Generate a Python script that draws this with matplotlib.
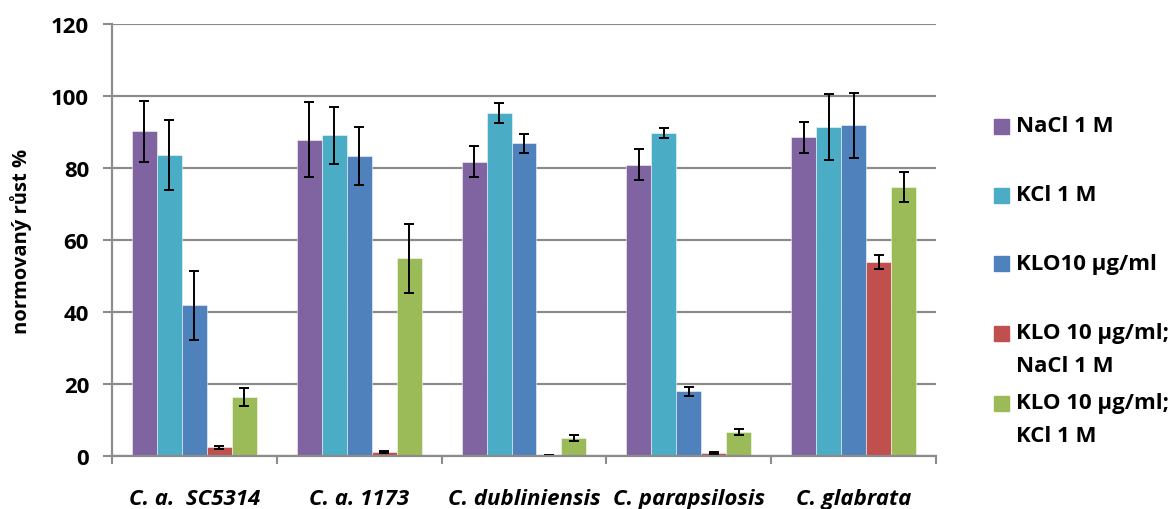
import matplotlib
matplotlib.use('Agg')
import matplotlib.pyplot as plt
import numpy as np
from matplotlib.patches import Rectangle

plt.rcParams['font.family'] = ['Open Sans', 'DejaVu Sans']

# data
categories = ['C. a.  SC5314', 'C. a. 1173', 'C. dubliniensis', 'C. parapsilosis', 'C. glabrata']
series_names = ['NaCl 1 M', 'KCl 1 M', 'KLO10 µg/ml', 'KLO 10 µg/ml;\nNaCl 1 M', 'KLO 10 µg/ml;\nKCl 1 M']
nacl = [90.2, 87.9, 81.8, 80.9, 88.6]
nacl_err = [8.5, 10.4, 4.3, 4.3, 4.3]
kcl = [83.6, 89.1, 95.3, 89.8, 91.4]
kcl_err = [9.8, 8.0, 2.8, 1.3, 9.1]
klo = [41.8, 83.4, 86.9, 17.9, 91.9]
klo_err = [9.7, 8.0, 2.7, 1.2, 9.1]
klo_nacl = [2.4, 1.0, 0.2, 0.7, 53.9]
klo_nacl_err = [0.4, 0.3, 0.1, 0.2, 1.9]
klo_kcl = [16.3, 54.9, 4.9, 6.6, 74.8]
klo_kcl_err = [2.5, 9.6, 0.9, 0.8, 4.1]

values = [nacl, kcl, klo, klo_nacl, klo_kcl]
errors = [nacl_err, kcl_err, klo_err, klo_nacl_err, klo_kcl_err]
colors = ['#8064A2', '#4BACC6', '#4F81BD', '#C0504D', '#9BBB59']

fig = plt.figure(figsize=(11.74, 5.10), dpi=100)
ax = fig.add_axes([112 / 1174, 1 - 456.7 / 510, (936 - 112) / 1174, (456.7 - 25.3) / 510])

x = np.arange(len(categories))
w = 0.1515
grid_c = '#8c8c8c'

ax.set_axisbelow(True)
ax.yaxis.grid(True, color=grid_c, lw=1.6)

for i, (vals, errs, c) in enumerate(zip(values, errors, colors)):
    ax.bar(x + (i - 2) * w, vals, w, color=c, edgecolor=(1, 1, 1, 0.5), lw=0.7,
           yerr=errs, capsize=3.8, error_kw=dict(ecolor='black', elinewidth=1.4, capthick=1.4))

ax.set_xlim(-0.5, len(categories) - 0.5)
ax.set_ylim(0, 120)
ax.set_yticks(range(0, 121, 20))
ax.tick_params(axis='y', length=6.5, width=1.5, color=grid_c, pad=10, labelsize=16)
for t in ax.get_yticklabels():
    t.set_fontweight('bold')

ax.set_xticks(x)
ax.set_xticklabels(categories, fontsize=16, fontweight='bold', fontstyle='italic')
ax.tick_params(axis='x', length=0, pad=23)
ax.set_xticks(np.arange(-0.5, len(categories), 1), minor=True)
ax.tick_params(axis='x', which='minor', length=5.5, width=1.5, color=grid_c)

for s in ['top', 'right']:
    ax.spines[s].set_visible(False)
for s in ['left', 'bottom']:
    ax.spines[s].set_color(grid_c)
    ax.spines[s].set_linewidth(1.6)

fig.text(21 / 1174, 1 - 241 / 510, 'normovaný růst %', rotation=90, ha='center', va='center',
         fontsize=14.5, fontweight='bold')

# legend
centers = [127, 196, 264.5, 334, 404]
for name, c, cy in zip(series_names, colors, centers):
    fig.patches.append(Rectangle((994 / 1174, 1 - (cy + 7.5) / 510), 15 / 1174, 15 / 510,
                                 color=c, transform=fig.transFigure, figure=fig))
    for j, line in enumerate(name.split('\n')):
        fig.text(1016 / 1174, 1 - (cy + 33 * j) / 510, line, ha='left', va='center',
                 fontsize=16, fontweight='bold')

fig.savefig('out.png', dpi=100)
